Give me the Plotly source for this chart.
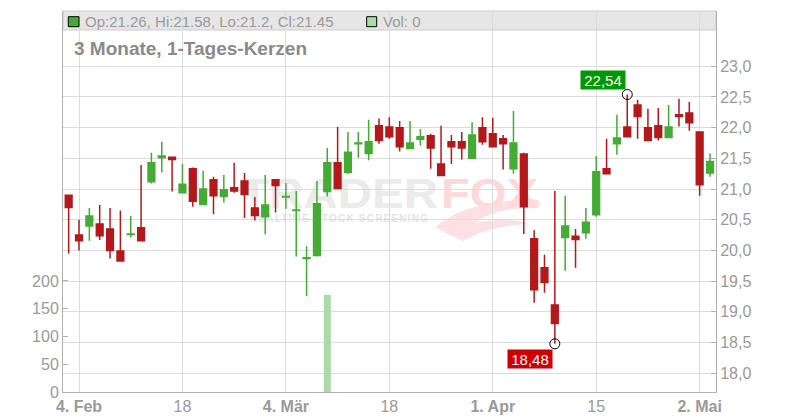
import base64
import pandas as pd
import plotly.graph_objects as go

# ---------------- data ----------------
HOLIDAYS = ["2019-04-19", "2019-04-22", "2019-05-01"]
DATES = [d.strftime("%Y-%m-%d") for d in pd.bdate_range("2019-02-01", "2019-05-03")
         if d.strftime("%Y-%m-%d") not in HOLIDAYS]

OPEN = [20.90, 20.25, 20.40, 20.43, 20.35, 19.99, 20.26, 20.37, 21.12, 21.51,
        21.52, 20.94, 21.33, 20.75, 21.15, 20.88, 21.02, 21.13, 20.69, 20.55,
        21.15, 20.87, 20.65, 19.87, 19.92, 20.96, 21.43, 21.27, 21.74, 21.58,
        22.03, 22.01, 22.00, 21.66, 21.81, 21.87, 21.41, 21.77, 21.77, 21.50,
        22.00, 21.90, 21.82, 21.33, 21.57, 20.19, 19.72, 19.11, 20.21, 20.23,
        20.29, 20.58, 21.33, 21.74, 22.01, 22.37, 22.00, 22.03, 21.84, 22.21,
        22.24, 21.93, 21.26]
HIGH = [20.91, 20.50, 20.69, 20.74, 20.69, 20.65, 20.56, 21.39, 21.59, 21.77,
        21.53, 21.41, 21.35, 21.30, 21.20, 21.23, 21.43, 21.26, 20.87, 21.23,
        21.15, 21.10, 20.97, 20.07, 21.13, 21.67, 22.01, 21.93, 21.93, 22.13,
        22.15, 22.17, 22.11, 22.11, 21.98, 21.90, 22.03, 21.88, 21.93, 22.09,
        22.17, 22.16, 21.88, 22.27, 21.59, 20.33, 19.93, 20.97, 20.89, 20.35,
        20.69, 21.54, 21.82, 22.21, 22.54, 22.45, 22.31, 22.32, 22.37, 22.47,
        22.42, 21.93, 21.58]
LOW = [19.95, 20.00, 20.16, 20.17, 19.87, 19.83, 20.21, 20.16, 21.09, 21.27,
       20.96, 20.94, 20.71, 20.75, 20.59, 20.78, 20.94, 20.53, 20.49, 20.26,
       20.62, 20.68, 19.90, 19.26, 19.90, 20.88, 21.01, 21.25, 21.51, 21.47,
       21.74, 21.82, 21.61, 21.66, 21.71, 21.33, 21.22, 21.41, 21.48, 21.50,
       21.72, 21.69, 21.32, 21.25, 20.27, 19.15, 19.31, 18.48, 19.67, 19.72,
       20.19, 20.55, 21.25, 21.56, 21.85, 21.82, 21.79, 21.79, 21.84, 22.02,
       21.95, 20.89, 21.20]
CLOSE = [20.70, 20.16, 20.56, 20.24, 20.00, 19.83, 20.27, 20.16, 21.43, 21.54,
         21.48, 21.08, 20.80, 21.00, 20.89, 20.99, 20.97, 20.91, 20.57, 20.74,
         21.06, 20.88, 20.66, 19.88, 20.76, 21.43, 21.01, 21.60, 21.75, 21.77,
         21.79, 21.85, 21.69, 21.75, 21.85, 21.67, 21.22, 21.69, 21.67, 21.88,
         21.77, 21.69, 21.74, 21.75, 20.71, 19.36, 19.48, 18.81, 20.40, 20.18,
         20.46, 21.28, 21.25, 21.83, 21.85, 22.18, 21.79, 21.84, 22.01, 22.18,
         22.08, 21.07, 21.45]
VOLUME = [0, 0, 0, 0, 0, 0, 0, 0, 0, 0,
          0, 0, 0, 0, 0, 0, 0, 0, 0, 0,
          0, 0, 0, 0, 0, 175, 0, 0, 0, 0,
          0, 0, 0, 0, 0, 0, 0, 0, 0, 0,
          0, 0, 0, 0, 0, 0, 0, 0, 0, 0,
          0, 0, 0, 0, 0, 0, 0, 0, 0, 0,
          0, 0, 0]

TICK_DATES = ["2019-02-04", "2019-02-18", "2019-03-04", "2019-03-18",
              "2019-04-01", "2019-04-15", "2019-05-02"]
TICK_LABELS = ["<b>4. Feb</b>", "18", "<b>4. Mär</b>", "18",
               "<b>1. Apr</b>", "15", "<b>2. Mai</b>"]
PRICE_TICKS = [18.0, 18.5, 19.0, 19.5, 20.0, 20.5, 21.0, 21.5, 22.0, 22.5, 23.0]
VOLUME_TICKS = [0, 50, 100, 150, 200]

TITLE = "3 Monate, 1-Tages-Kerzen"

# ---------------- styling ----------------
GREEN = "#46ab35"
RED = "#b3191b"
VOL_GREEN = "#a9dca6"
GRID = "#dcdcdc"
AXIS = "#b0b0b0"
TEXT = "#9a9a9a"
FONT = "Liberation Sans, Arial, sans-serif"

imax = max(range(len(HIGH)), key=lambda i: HIGH[i])
imin = min(range(len(LOW)), key=lambda i: LOW[i])

def de(v):
    return f"{v:.2f}".replace(".", ",")

fig = go.Figure()
fig.add_trace(go.Candlestick(
    x=DATES, open=OPEN, high=HIGH, low=LOW, close=CLOSE,
    increasing=dict(line=dict(color=GREEN, width=1.5), fillcolor=GREEN),
    decreasing=dict(line=dict(color=RED, width=1.5), fillcolor=RED),
    whiskerwidth=0, hoverinfo="skip", showlegend=False))
fig.add_trace(go.Scatter(
    x=[DATES[imax], DATES[imin]], y=[HIGH[imax], LOW[imin]], mode="markers",
    marker=dict(symbol="circle-open", size=10, color="black", line=dict(width=1)),
    hoverinfo="skip", showlegend=False))
fig.add_trace(go.Bar(
    x=DATES, y=VOLUME, yaxis="y2", marker=dict(color=VOL_GREEN, line=dict(width=0)),
    width=0.68, hoverinfo="skip", showlegend=False))

# watermark as an svg image below the data
W, H = 653, 381
svg = f'''<svg xmlns="http://www.w3.org/2000/svg" width="{W}" height="{H}" viewBox="0 0 {W} {H}">
<path d="M 372 216 Q 402 190 470 188 Q 482 190 474 197 Q 432 196 412 212 Q 444 205 466 213 Q 424 215 400 230 Q 386 224 372 216 Z" fill="#fde0e3"/>
<text x="177" y="197" font-family="Liberation Sans, Arial, sans-serif" font-weight="bold" font-size="43" fill="#ebebeb" textLength="198" lengthAdjust="spacingAndGlyphs">TRADER</text>
<text x="378" y="197" font-family="Liberation Sans, Arial, sans-serif" font-weight="bold" font-size="43" fill="#fcd9dc" textLength="97" lengthAdjust="spacingAndGlyphs">FOX</text>
<text x="187" y="211" font-family="Liberation Sans, Arial, sans-serif" font-weight="bold" font-size="10" fill="#e4e4e4" textLength="178" lengthAdjust="spacing">REALTIME STOCK SCREENING</text>
</svg>'''
src = "data:image/svg+xml;base64," + base64.b64encode(svg.encode("utf-8")).decode("ascii")

def py(y_px):
    return (392 - y_px) / 381.0

def px(x_px):
    return (x_px - 63) / 653.0

shapes = [
    dict(type="rect", xref="paper", yref="paper", x0=0, x1=1, y0=py(30), y1=1,
         fillcolor="#e6e6e6", line=dict(color="#cccccc", width=1), layer="below"),
    dict(type="rect", xref="paper", yref="paper", x0=px(68.3), x1=px(79), y0=py(26.7), y1=py(16.7),
         fillcolor="#44aa33", line=dict(color="black", width=1)),
    dict(type="rect", xref="paper", yref="paper", x0=px(366.7), x1=px(376.7), y0=py(26.7), y1=py(16.7),
         fillcolor="#a8dca8", line=dict(color="black", width=1)),
]

annotations = [
    dict(xref="paper", yref="paper", x=px(83), y=py(21.5), xanchor="left", yanchor="middle",
         text=f"Op:{OPEN[-1]}, Hi:{HIGH[-1]}, Lo:{LOW[-1]}, Cl:{CLOSE[-1]}",
         showarrow=False, font=dict(size=15, color=TEXT, family=FONT)),
    dict(xref="paper", yref="paper", x=px(381), y=py(21.5), xanchor="left", yanchor="middle",
         text=f"Vol: {VOLUME[-1]}", showarrow=False, font=dict(size=15, color=TEXT, family=FONT)),
    dict(xref="paper", yref="paper", x=px(72), y=py(48), xanchor="left", yanchor="middle",
         text=f"<b>{TITLE}</b>", showarrow=False, font=dict(size=19, color="#8a8a8a", family=FONT)),
    dict(x=DATES[imax], y=HIGH[imax], xref="x", yref="y", text=de(HIGH[imax]), showarrow=False,
         xanchor="right", yanchor="bottom", xshift=-1, yshift=5, bgcolor="#009900",
         font=dict(color="white", size=15, family=FONT), borderpad=0, width=44, height=18),
    dict(x=DATES[imin], y=LOW[imin], xref="x", yref="y", text=de(LOW[imin]), showarrow=False,
         xanchor="right", yanchor="top", xshift=-2, yshift=-5, bgcolor="#cc0000",
         font=dict(color="white", size=15, family=FONT), borderpad=0, width=44, height=18),
]

fig.update_layout(
    width=800, height=420, margin=dict(l=63, r=84, t=11, b=28, autoexpand=False),
    paper_bgcolor="white", plot_bgcolor="white", showlegend=False, separators=",.",
    font=dict(family=FONT, color=TEXT, size=16),
    boxgap=0.35, boxgroupgap=0,
    xaxis=dict(type="category", range=[-0.547, 62.58], tickvals=TICK_DATES, ticktext=TICK_LABELS,
               showgrid=True, gridcolor=GRID, gridwidth=1, showline=True, linecolor=AXIS,
               ticks="", rangeslider=dict(visible=False), tickfont=dict(size=16, color=TEXT),
               fixedrange=True, automargin=False),
    yaxis=dict(side="right", range=[17.695, 23.90], tickvals=PRICE_TICKS, tickformat=".1f",
               showgrid=True, gridcolor=GRID, showline=True, linecolor=AXIS, ticks="inside",
               ticklen=5, tickcolor=AXIS, zeroline=False, tickfont=dict(size=16, color=TEXT),
               automargin=False),
    yaxis2=dict(overlaying="y", side="left", range=[0, 686], tickvals=VOLUME_TICKS,
                showgrid=False, showline=True, linecolor=AXIS, ticks="inside", ticklen=5,
                tickcolor=AXIS, zeroline=False, tickfont=dict(size=16, color=TEXT),
                automargin=False),
    shapes=shapes, annotations=annotations,
    images=[dict(source=src, xref="paper", yref="paper", x=0, y=1, sizex=1, sizey=1,
                 xanchor="left", yanchor="top", sizing="stretch", layer="below")],
)

fig.write_html("out.html", config={"displayModeBar": False},
               post_script="document.body.style.margin='0';")
